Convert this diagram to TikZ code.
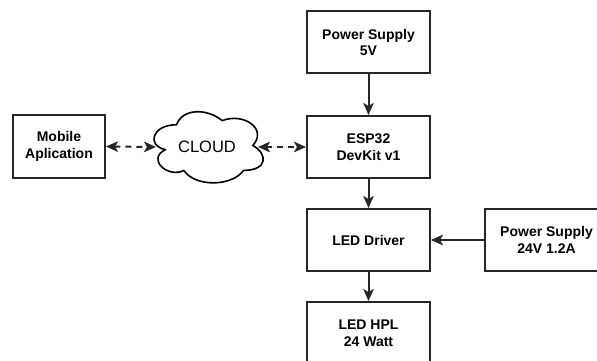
\documentclass[tikz,border=0pt]{standalone}
\usepackage{fontspec}
\setmainfont{Liberation Sans}
\usetikzlibrary{arrows.meta}
\begin{document}
\begin{tikzpicture}[x=1pt,y=-1pt,
  blk/.style={draw=black!85,line width=2pt,fill=white,minimum width=123pt,minimum height=62pt,align=center,font=\fontsize{14}{16.5}\selectfont\bfseries,inner sep=0pt},
  tip/.style={Stealth[length=12pt,width=10.5pt,inset=3pt]},
  conn/.style={draw=black!85,line width=2pt,-{Stealth[length=12pt,width=10.5pt,inset=3pt]}},
  dconn/.style={draw=black!85,line width=2pt,dash pattern=on 6pt off 5pt,{Stealth[length=12pt,width=10.5pt,inset=3pt]}-{Stealth[length=12pt,width=10.5pt,inset=3pt]}},
  cloudline/.style={draw=black,line width=1.6pt,fill=white,line join=round}]
\useasboundingbox (0,0) rectangle (597,361);
\clip (0,0) rectangle (597,361);
\node[blk] (ps5) at (368.5,42.5) {Power Supply\\5V};
\node[blk] (esp) at (368.5,147) {ESP32\\DevKit v1};
\node[blk] (drv) at (368.5,240) {LED Driver};
\node[blk] (hpl) at (368.5,333) {LED HPL\\24 Watt};
\node[blk] (ps24) at (546.5,240) {Power Supply\\24V 1.2A};
\node[blk,minimum width=92pt,minimum height=63pt] (mob) at (59,146.5) {Mobile\\Aplication};
% cloud outline (draw.io cloud shape), box x=146,y=104,w=122,h=83
\begin{scope}[shift={(146,104)},x=122pt,y=-83pt]
\draw[cloudline] (0.25,0.25)
  .. controls (0.05,0.25) and (0,0.5) .. (0.16,0.55)
  .. controls (0,0.66) and (0.18,0.9) .. (0.31,0.8)
  .. controls (0.4,1) and (0.7,1) .. (0.8,0.8)
  .. controls (1,0.8) and (1,0.6) .. (0.875,0.5)
  .. controls (1,0.3) and (0.8,0.1) .. (0.625,0.2)
  .. controls (0.5,0.05) and (0.3,0.05) .. (0.25,0.25) -- cycle;
\end{scope}
\node[font=\fontsize{16.5}{18}\selectfont,inner sep=0pt] (cloud) at (207,147) {CLOUD};
\coordinate (cloudW) at (156,147);
\coordinate (cloudE) at (258,147);
\draw[conn] (ps5) -- (esp);
\draw[conn] (esp) -- (drv);
\draw[conn] (drv) -- (hpl);
\draw[conn] (ps24) -- (drv);
\draw[dconn] (mob.east) -- (cloudW);
\draw[dconn] (cloudE) -- (esp.west);
\end{tikzpicture}
\end{document}
